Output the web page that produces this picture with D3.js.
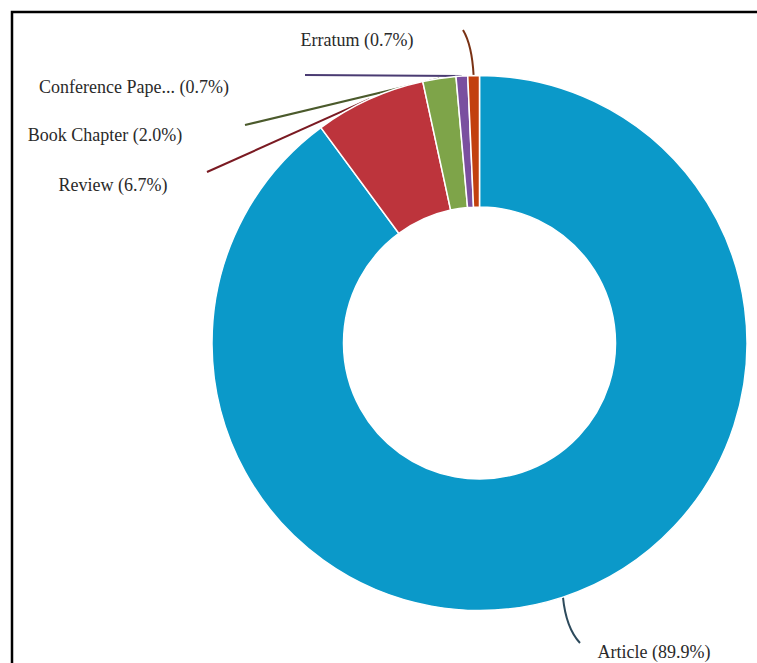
<!DOCTYPE html>
<html>
<head>
<meta charset="utf-8">
<script src="https://cdn.jsdelivr.net/npm/d3@7"></script>
<style>
  body { margin: 0; background: #fff; }
  svg { display: block; }
</style>
</head>
<body>
<div id="chart"></div>
<script>
// document types and their share (%)
const categories = ["Article", "Review", "Book Chapter", "Conference Paper", "Erratum"];
const shares = [89.9, 6.7, 2.0, 0.7, 0.7];
const colors = ["#0b99c9", "#bd343c", "#7ea449", "#7a4f9f", "#c2400f"];
const lineColors = ["#2d4a5c", "#7a1a22", "#4b5a2c", "#4a3b72", "#7a3214"];

const width = 757, height = 663;
const cx = 479.5, cy = 343, outerR = 267.5, innerR = 136;

// where each leader line ends and where its label sits (layout only)
const layout = {
  "Article":          { end: [580, 643], bend: [566, 628], label: [654, 652] },
  "Review":           { end: [207, 172], label: [113, 185] },
  "Book Chapter":     { end: [245, 125], label: [105, 135] },
  "Conference Paper": { end: [305, 75],  label: [134, 87] },
  "Erratum":          { end: [463, 30],  bend: [472, 45], label: [357, 40] }
};

const data = categories.map((c, i) => ({ name: c, value: shares[i], color: colors[i], line: lineColors[i] }));

const svg = d3.select("#chart").append("svg")
  .attr("width", width)
  .attr("height", height);

// frame (top and left edges)
svg.append("rect")
  .attr("x", 12).attr("y", 12)
  .attr("width", width + 20).attr("height", height + 20)
  .attr("fill", "none")
  .attr("stroke", "#000")
  .attr("stroke-width", 2.5);

const pie = d3.pie().sort(null).value(d => d.value);
const arcs = pie(data);

const arc = d3.arc().innerRadius(innerR).outerRadius(outerR);
const edge = d3.arc().innerRadius(outerR).outerRadius(outerR);

const g = svg.append("g").attr("transform", `translate(${cx},${cy})`);

// leader lines go under the slices
g.selectAll("path.leader")
  .data(arcs).enter().append("path")
  .attr("class", "leader")
  .attr("fill", "none")
  .attr("stroke", d => d.data.line)
  .attr("stroke-width", 2)
  .attr("d", d => {
    const [x0, y0] = edge.centroid(d);
    const L = layout[d.data.name];
    const [x1, y1] = [L.end[0] - cx, L.end[1] - cy];
    if (L.bend) {
      const [bx, by] = [L.bend[0] - cx, L.bend[1] - cy];
      return `M${x0},${y0}Q${bx},${by} ${x1},${y1}`;
    }
    return `M${x0},${y0}L${x1},${y1}`;
  });

g.selectAll("path.slice")
  .data(arcs).enter().append("path")
  .attr("class", "slice")
  .attr("d", arc)
  .attr("fill", d => d.data.color)
  .attr("stroke", "#fff")
  .attr("stroke-width", 1.5);

const shortName = s => s.length > 15 ? s.slice(0, 15) + "..." : s;

svg.selectAll("text.label")
  .data(arcs).enter().append("text")
  .attr("class", "label")
  .attr("x", d => layout[d.data.name].label[0])
  .attr("y", d => layout[d.data.name].label[1])
  .attr("text-anchor", "middle")
  .attr("dominant-baseline", "central")
  .attr("font-family", "'Liberation Serif', serif")
  .attr("font-size", 18)
  .attr("fill", "#2a2a2a")
  .text(d => `${shortName(d.data.name)} (${d.data.value.toFixed(1)}%)`);
</script>
</body>
</html>
